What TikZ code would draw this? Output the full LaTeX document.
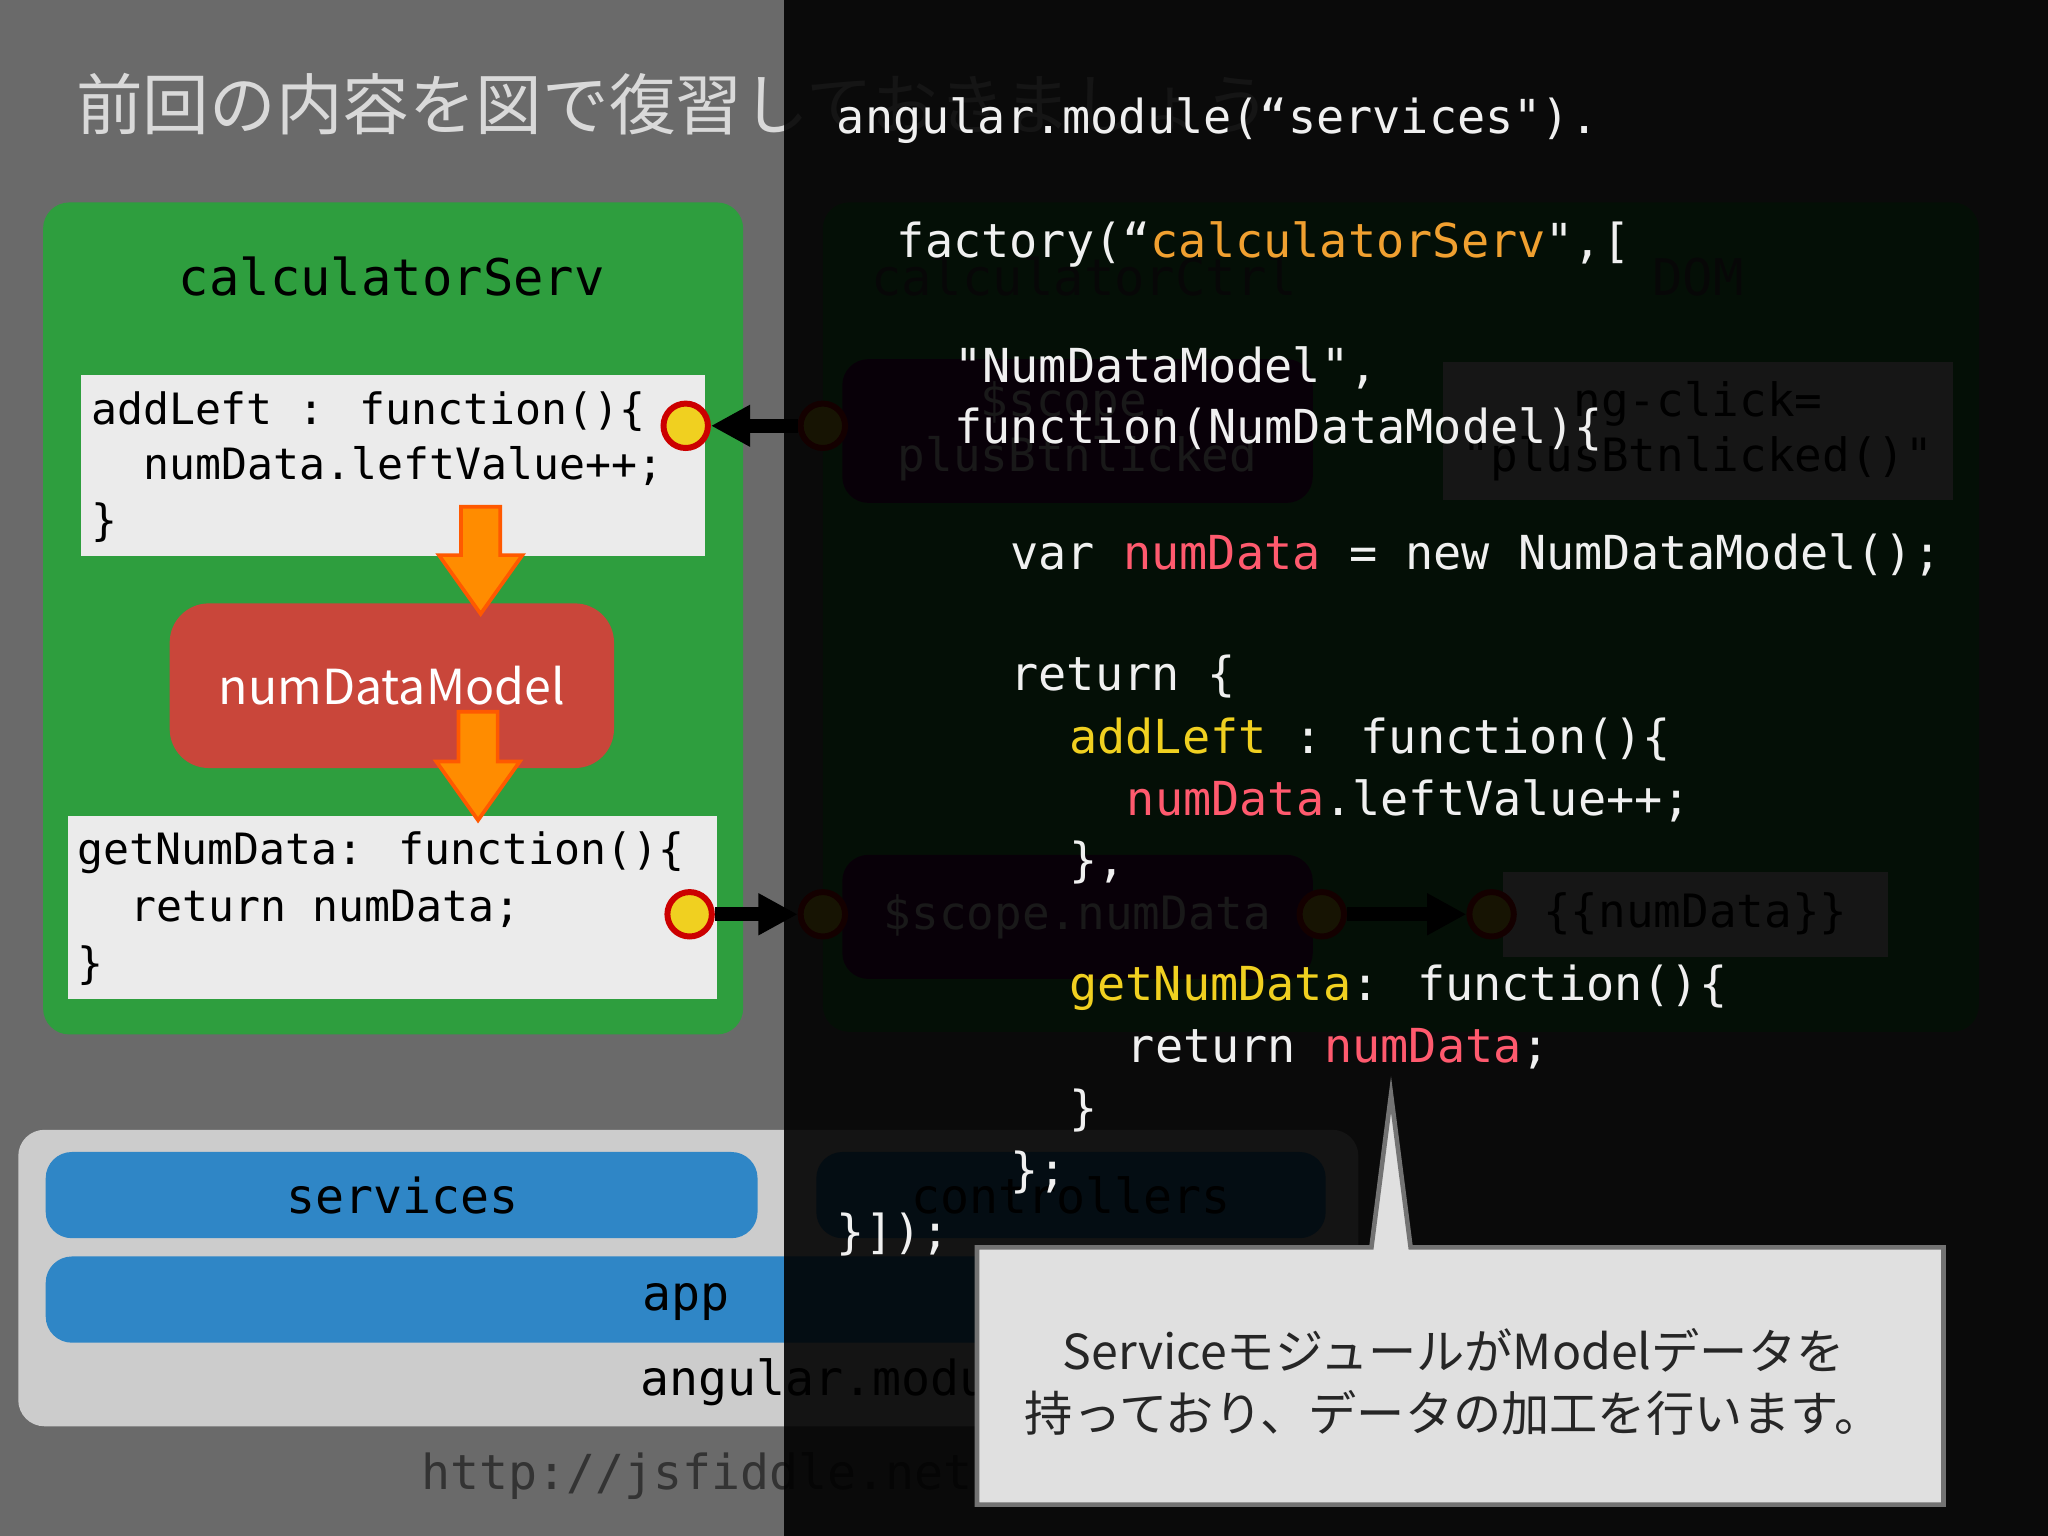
\documentclass[tikz,border=0pt]{standalone}
\usepackage{fontspec}
\setmainfont{Noto Sans CJK JP}
\newfontfamily\jp{Noto Sans CJK JP}
\newfontfamily\cm{DejaVu Sans Mono}
\usetikzlibrary{shapes.arrows,arrows.meta}
\definecolor{bgl}{HTML}{6A6A6A}
\definecolor{grn}{HTML}{2E9E3E}
\definecolor{redb}{HTML}{C9463A}
\definecolor{blu}{HTML}{2F86C6}
\definecolor{orn}{HTML}{F0A030}
\definecolor{pnk}{HTML}{FF5A6E}
\definecolor{yel}{HTML}{F0D020}
\definecolor{cw}{HTML}{F0F0F0}
\tikzset{
 code/.style={font=\cm\fontsize{10.2pt}{12pt}\selectfont,text=cw,anchor=west,inner sep=0},
 bcode/.style={font=\cm\fontsize{9.4pt}{12pt}\selectfont,text=black,anchor=west,inner sep=0},
 dot/.style={circle,fill=yel,draw=red!80!black,line width=1.3pt,minimum size=0.34cm,inner sep=0},
 oarr/.style={fill=orange!90!yellow,draw=orange!70!red,line width=0.8pt},
 blk/.style={-{Triangle[length=0.3cm,width=0.3cm]},line width=3pt,black},
}
\begin{document}
\begin{tikzpicture}[x=0.01cm,y=-0.01cm]
\useasboundingbox (0,0) rectangle (1568,1176);
\fill[bgl] (0,0) rectangle (1568,1176);
\node[anchor=west,text=black!15,font=\jp\fontsize{14.5pt}{16pt}\selectfont] (title) at (46,80) {前回の内容を図で復習しておきましょう};
% left green panel
\fill[grn,rounded corners=0.2cm] (33,155) rectangle (569,792);
\node[font=\cm\fontsize{11pt}{13pt}\selectfont] (cs) at (300,212) {calculatorServ};
\fill[black!8] (62,287) rectangle (540,426);
\node[bcode] (c1) at (69,315) {addLeft : function()\{};
\node[bcode] (c2) at (109,357) {numData.leftValue++;};
\node[bcode] (c3) at (69,400) {\}};
\fill[black!8] (52,625) rectangle (549,765);
\node[bcode] (d1) at (59,653) {getNumData: function()\{};
\node[bcode] (d2) at (99,696) {return numData;};
\node[bcode] (d3) at (59,739) {\}};
\node[fill=redb,rounded corners=0.3cm,minimum width=3.4cm,minimum height=1.26cm,text=white,font=\fontsize{10.5pt}{12pt}\selectfont] (ndm) at (300,525) {numDataModel};
\draw[oarr] (353,388) -- (383,388) -- (383,425) -- (400,425) -- (368,470) -- (336,425) -- (353,425) -- cycle;
\draw[oarr] (351,545) -- (381,545) -- (381,583) -- (398,583) -- (366,628) -- (334,583) -- (351,583) -- cycle;
% right faded content
\fill[grn,rounded corners=0.2cm] (630,155) rectangle (1515,790);
\node[font=\cm\fontsize{11pt}{13pt}\selectfont,text=black!70] (ctrl) at (830,212) {calculatorCtrl};
\node[font=\cm\fontsize{11pt}{13pt}\selectfont,text=black!70] (dom) at (1300,212) {DOM};
\node[fill=violet!70!black,rounded corners=0.2cm,minimum width=3.6cm,minimum height=1.1cm,align=center,font=\cm\fontsize{10pt}{12pt}\selectfont,text=white] (sp) at (825,330) {\$scope.\\plusBtnlicked};
\node[fill=black!10,minimum width=3.9cm,minimum height=1.05cm,align=center,font=\cm\fontsize{10pt}{12pt}\selectfont] (ng) at (1300,330) {ng-click=\\"plusBtnlicked()"};
\node[fill=violet!70!black,rounded corners=0.2cm,minimum width=3.6cm,minimum height=0.95cm,font=\cm\fontsize{10pt}{12pt}\selectfont,text=white] (sn) at (825,702) {\$scope.numData};
\node[fill=black!10,minimum width=2.95cm,minimum height=0.65cm,font=\cm\fontsize{10pt}{12pt}\selectfont] (nd) at (1298,700) {\{\{numData\}\}};
\node[dot] (r1) at (630,326) {};
\node[dot] (r2) at (630,700) {};
\node[dot] (r3) at (1012,700) {};
\node[dot] (r4) at (1142,700) {};
\draw[blk] (r3) -- (r4);
% bottom panel
\fill[black!20,rounded corners=0.2cm] (14,865) rectangle (1040,1092);
\fill[blu,rounded corners=0.2cm] (35,882) rectangle (580,948);
\node[font=\cm\fontsize{10.5pt}{12pt}\selectfont] (sv) at (308,915) {services};
\fill[blu,rounded corners=0.2cm] (625,882) rectangle (1015,948);
\node[font=\cm\fontsize{10.5pt}{12pt}\selectfont] (ct) at (820,915) {controllers};
\fill[blu,rounded corners=0.2cm] (35,962) rectangle (1015,1028);
\node[font=\cm\fontsize{10.5pt}{12pt}\selectfont] (ap) at (525,997) {app};
\node[anchor=west,font=\cm\fontsize{10.5pt}{12pt}\selectfont] (am) at (478,1058) {angular.module};
\node[anchor=west,font=\cm\fontsize{10.5pt}{12pt}\selectfont,text=black!80] (url) at (310,1130) {http://jsfiddle.net/};
% overlay
\fill[black,opacity=0.9] (600,0) rectangle (1568,1176);
% links left
\node[dot] (l1) at (525,326) {};
\node[dot] (l2) at (528,700) {};
\draw[blk] (r1) -- (l1);
\draw[blk] (l2) -- (r2);
% code
\node[code] (k1) at (640,92) {angular.module(“services").};
\node[code] (k2) at (686,187) {factory(“\textcolor{orn}{calculatorServ}",[};
\node[code] (k3) at (730,282) {"NumDataModel",};
\node[code] (k4) at (730,329) {function(NumDataModel)\{};
\node[code] (k5) at (773,425) {var \textcolor{pnk}{numData} = new NumDataModel();};
\node[code] (k6) at (773,518) {return \{};
\node[code] (k7) at (818,566) {\textcolor{yel}{addLeft} : function()\{};
\node[code] (k8) at (862,613) {\textcolor{pnk}{numData}.leftValue++;};
\node[code] (k9) at (818,660) {\},};
\node[code] (k10) at (818,756) {\textcolor{yel}{getNumData}: function()\{};
\node[code] (k11) at (862,803) {return \textcolor{pnk}{numData};};
\node[code] (k12) at (818,850) {\}};
\node[code] (k13) at (773,898) {\};};
\node[code] (k14) at (640,945) {\}]);};
% callout
\draw[black!55,line width=1pt,fill=black!12] (748,955) -- (1050,955) -- (1065,838) -- (1080,955) -- (1488,955) -- (1488,1152) -- (748,1152) -- cycle;
\node[align=center,font=\jp\fontsize{10.5pt}{13.5pt}\selectfont,text=black!85] (co) at (1113,1058) {ServiceモジュールがModelデータを\\持っており、データの加工を行います。};
\end{tikzpicture}
\end{document}
